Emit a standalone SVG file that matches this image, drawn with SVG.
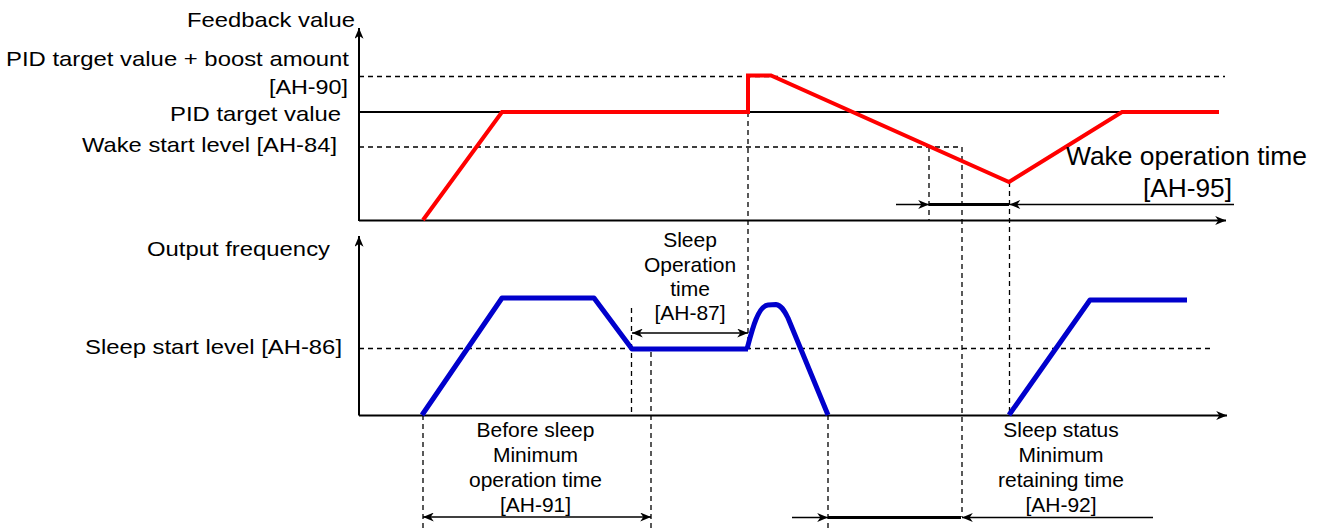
<svg xmlns="http://www.w3.org/2000/svg" width="1327" height="529" viewBox="0 0 1327 529">
<style>
text{font-family:"Liberation Sans",Arial,Helvetica,sans-serif;fill:#000}
.lbl{font-size:21px}
.sm{font-size:21px;text-anchor:middle}
.big{font-size:25.5px}
.ax{stroke:#000;stroke-width:2;fill:none}
.dash{stroke:#000;stroke-width:1.3;stroke-dasharray:5,4;fill:none}
.dim{stroke:#000;stroke-width:1.5;fill:none}
.thick{stroke:#000;stroke-width:3;fill:none}
.red{stroke:#ff0000;stroke-width:4;fill:none;stroke-linejoin:miter}
.blue{stroke:#0000cc;stroke-width:5;fill:none;stroke-linejoin:round}
</style>
<defs>
<marker id="ah" viewBox="0 0 12 10" refX="12" refY="5" markerWidth="12" markerHeight="9" markerUnits="userSpaceOnUse" orient="auto-start-reverse">
<path d="M0,0 L12,5 L0,10 L3.5,5 z" fill="#000"/>
</marker>
<marker id="dh" viewBox="0 0 12 10" refX="12" refY="5" markerWidth="12" markerHeight="9" markerUnits="userSpaceOnUse" orient="auto-start-reverse">
<path d="M0,0 L12,5 L0,10 L3.5,5 z" fill="#000"/>
</marker>
</defs>

<g id="reference-lines">
<line class="dash" x1="359" y1="76.5" x2="1225" y2="76.5"/>
<line class="dash" x1="359" y1="147" x2="962" y2="147"/>
<line class="dash" x1="359" y1="348.5" x2="1212" y2="348.5"/>
<line class="dash" x1="748" y1="112" x2="748" y2="349"/>
<line class="dash" x1="929" y1="147" x2="929" y2="220"/>
<line class="dash" x1="962" y1="147" x2="962" y2="517"/>
<line class="dash" x1="1009.5" y1="182" x2="1009.5" y2="415"/>
<line class="dash" x1="631.5" y1="308" x2="631.5" y2="415"/>
<line class="dash" x1="651" y1="352" x2="651" y2="529"/>
<line class="dash" x1="423" y1="415" x2="423" y2="529"/>
<line class="dash" x1="828" y1="415" x2="828" y2="529"/>
<line x1="359" y1="112" x2="1219" y2="112" stroke="#000" stroke-width="2"/>
</g>

<g id="axes">
<line class="ax" x1="359" y1="221" x2="359" y2="28" marker-end="url(#ah)"/>
<line class="ax" x1="359" y1="220.5" x2="1226" y2="220.5" marker-end="url(#ah)"/>
<line class="ax" x1="359" y1="415.5" x2="359" y2="236" marker-end="url(#ah)"/>
<line class="ax" x1="359" y1="415.5" x2="1227" y2="415.5" marker-end="url(#ah)"/>
</g>

<g id="feedback-waveform">
<polyline class="red" points="423,220 502,112 748,112 748,75.5 771,75.5 1009,182 1122,112 1219,112"/>
</g>

<g id="frequency-waveform">
<polyline class="blue" points="422,415 502,298 594,298 632,349 748,349"/>
<path class="blue" d="M747,349 C752,330 758,306 768,305 L776,304.5 C781,305 784,310 788,318 L828,415"/>
<polyline class="blue" points="1009,415 1090,300 1187,300"/>
</g>

<g id="connectors">
<line class="dim" x1="632" y1="333" x2="748" y2="333" marker-start="url(#dh)" marker-end="url(#dh)"/>
<line class="dim" x1="423" y1="517" x2="651" y2="517" marker-start="url(#dh)" marker-end="url(#dh)"/>
<line class="dim" x1="896" y1="204.5" x2="929" y2="204.5" marker-end="url(#dh)"/>
<line class="thick" x1="929" y1="204.5" x2="1009" y2="204.5"/>
<line class="dim" x1="1234" y1="204.5" x2="1009.5" y2="204.5" stroke="#333" marker-end="url(#dh)"/>
<line class="dim" x1="792" y1="517.5" x2="828" y2="517.5" marker-end="url(#dh)"/>
<line class="thick" x1="828" y1="517.5" x2="961" y2="517.5"/>
<line class="dim" x1="1153" y1="517.5" x2="962" y2="517.5" marker-end="url(#dh)"/>
</g>

<g id="axis-labels">
<text class="lbl" x="187" y="27" textLength="168" lengthAdjust="spacingAndGlyphs">Feedback value</text>
<text class="lbl" x="6" y="65.5" textLength="343" lengthAdjust="spacingAndGlyphs">PID target value + boost amount</text>
<text class="lbl" x="269" y="94" textLength="79" lengthAdjust="spacingAndGlyphs">[AH-90]</text>
<text class="lbl" x="170" y="120.5" textLength="171" lengthAdjust="spacingAndGlyphs">PID target value</text>
<text class="lbl" x="82" y="152" textLength="255" lengthAdjust="spacingAndGlyphs">Wake start level [AH-84]</text>
<text class="lbl" x="147" y="255.5" textLength="183" lengthAdjust="spacingAndGlyphs">Output frequency</text>
<text class="lbl" x="85" y="353.5" textLength="257" lengthAdjust="spacingAndGlyphs">Sleep start level [AH-86]</text>
</g>

<g id="wake-operation-label">
<text class="big" x="1066" y="165" textLength="241" lengthAdjust="spacingAndGlyphs">Wake operation time</text>
<text class="big" x="1143" y="196.5" textLength="89" lengthAdjust="spacingAndGlyphs">[AH-95]</text>
</g>

<g id="sleep-operation-label">
<text class="sm" x="690" y="246.5">Sleep</text>
<text class="sm" x="690" y="271.5">Operation</text>
<text class="sm" x="690" y="295.5">time</text>
<text class="sm" x="690" y="320">[AH-87]</text>
</g>

<g id="before-sleep-label">
<text class="sm" x="535.5" y="437">Before sleep</text>
<text class="sm" x="535.5" y="462">Minimum</text>
<text class="sm" x="535.5" y="487">operation time</text>
<text class="sm" x="535.5" y="511.5">[AH-91]</text>
</g>

<g id="sleep-status-label">
<text class="sm" x="1061" y="437">Sleep status</text>
<text class="sm" x="1061" y="462">Minimum</text>
<text class="sm" x="1061" y="487">retaining time</text>
<text class="sm" x="1061" y="511.5">[AH-92]</text>
</g>
</svg>
